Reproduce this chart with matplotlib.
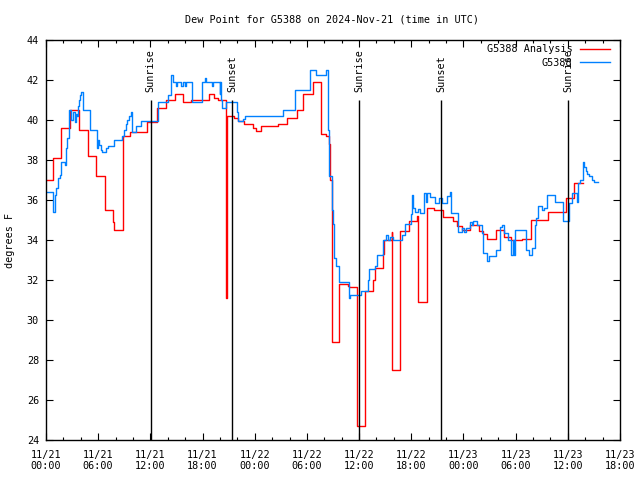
#!/usr/bin/python3

import matplotlib
matplotlib.use("Agg")
import matplotlib.pyplot as plt
from matplotlib.ticker import MultipleLocator
from datetime import datetime, timedelta

START = datetime(2024, 11, 21, 0, 0)

# hours since 11/21 00:00 UTC, and dew point in F
analysis_hours = [0.00, 0.80, 1.76, 2.76, 3.76, 4.83, 5.71, 6.78, 7.74, 7.85,
                  8.82, 9.66, 11.61, 12.73, 13.80, 14.83, 15.79, 16.64, 18.71, 19.32,
                  19.81, 20.64, 20.85, 21.62, 22.11, 22.77, 23.84, 24.11, 24.69, 26.71,
                  27.68, 28.83, 29.59, 30.73, 31.59, 32.19, 32.54, 32.71, 32.85, 33.72,
                  34.69, 34.87, 35.72, 36.71, 37.63, 37.83, 38.71, 38.81, 39.73, 39.82,
                  40.74, 41.77, 42.69, 42.81, 43.77, 44.61, 45.68, 46.76, 47.29, 47.80,
                  48.75, 49.82, 50.21, 50.67, 51.74, 52.70, 53.47, 54.70, 55.77, 57.76,
                  59.79, 60.71, 61.78]
analysis_vals = [37.0, 38.1, 39.6, 40.5, 39.5, 38.2, 37.2, 35.5, 34.9, 34.5,
                 39.2, 39.4, 39.9, 40.6, 41.0, 41.3, 40.9, 41.0, 41.3, 41.1,
                 41.0, 31.1, 40.2, 40.1, 39.95, 39.8, 39.6, 39.45, 39.7, 39.8,
                 40.1, 40.5, 41.3, 41.9, 39.3, 39.2, 38.8, 37.0, 28.9, 31.8,
                 31.7, 31.65, 24.7, 31.45, 32.0, 32.6, 33.3, 34.0, 34.4, 27.5,
                 34.45, 34.95, 35.2, 30.9, 35.6, 35.5, 35.15, 34.95, 34.7, 34.5,
                 34.75, 34.45, 34.3, 34.05, 34.5, 34.15, 34.0, 34.05, 35.0, 35.4,
                 36.1, 36.85, 36.85]

obs_hours = [0.00, 0.84, 1.00, 1.15, 1.38, 1.58, 1.76, 2.15, 2.30, 2.45,
             2.61, 2.68, 2.91, 3.14, 3.30, 3.45, 3.60, 3.68, 3.79, 3.91,
             4.06, 4.22, 5.06, 5.83, 5.90, 5.98, 6.13, 6.29, 6.44, 6.86,
             7.13, 7.82, 8.77, 8.97, 9.16, 9.35, 9.54, 9.74, 9.92, 10.38,
             10.89, 12.91, 14.06, 14.37, 14.55, 14.95, 15.12, 15.52, 15.70, 15.98,
             16.15, 16.75, 17.90, 18.28, 18.40, 19.09, 19.21, 19.95, 20.04, 20.12,
             20.20, 20.70, 21.93, 22.11, 22.69, 22.88, 27.22, 28.63, 30.36, 31.05,
             32.19, 32.46, 32.58, 32.89, 32.97, 33.08, 33.15, 33.31, 33.72, 34.87,
             34.95, 36.18, 37.06, 37.17, 37.83, 38.09, 38.78, 39.09, 39.32, 39.55,
             39.93, 40.90, 41.28, 41.93, 42.12, 42.23, 42.43, 42.77, 43.00, 43.46,
             43.64, 43.77, 44.15, 44.73, 45.22, 45.50, 46.14, 46.45, 46.57, 47.41,
             47.80, 48.10, 48.29, 48.75, 48.95, 49.13, 49.52, 50.10, 50.28, 50.74,
             50.97, 51.71, 52.20, 52.40, 52.70, 53.09, 53.47, 53.64, 53.81, 53.93,
             55.19, 55.57, 55.85, 56.23, 56.34, 56.61, 57.00, 57.26, 57.57, 58.53,
             59.48, 60.17, 60.44, 61.02, 61.14, 61.40, 61.71, 61.86, 62.05, 62.24,
             62.43, 62.81, 63.01, 63.50]
obs_vals = [36.4, 35.4, 36.25, 36.6, 37.1, 37.25, 37.9, 37.75, 38.6, 39.1,
            40.0, 40.5, 40.0, 40.4, 39.9, 40.3, 40.2, 40.7, 41.0, 41.25,
            41.4, 40.5, 39.5, 39.0, 38.6, 39.0, 38.75, 38.5, 38.4, 38.6,
            38.7, 39.0, 39.2, 39.5, 39.8, 40.0, 40.2, 40.4, 39.4, 39.7,
            39.95, 40.9, 41.25, 42.25, 41.9, 41.7, 41.9, 41.7, 41.9, 41.7,
            41.9, 40.9, 41.9, 42.1, 41.9, 41.7, 41.9, 41.3, 41.9, 41.0,
            40.6, 40.9, 40.4, 39.95, 40.05, 40.2, 40.5, 41.5, 42.5, 42.25,
            42.5, 39.5, 37.2, 35.5, 34.8, 33.8, 33.1, 32.7, 31.9, 31.1,
            31.25, 31.45, 32.0, 32.55, 32.7, 33.25, 34.0, 34.25, 34.0, 34.15,
            34.0, 34.25, 34.8, 35.3, 36.25, 35.6, 35.4, 35.55, 35.35, 36.35,
            35.9, 36.35, 36.15, 35.85, 36.1, 35.85, 36.2, 36.4, 35.35, 34.4,
            34.6, 34.4, 34.6, 34.9, 34.75, 34.95, 34.75, 34.35, 33.35, 32.95,
            33.2, 33.5, 34.65, 34.75, 34.35, 34.0, 33.25, 34.0, 33.25, 34.5,
            33.5, 33.25, 33.6, 34.75, 35.1, 35.7, 35.5, 35.6, 36.25, 35.9,
            34.95, 35.85, 36.35, 35.9, 36.85, 37.0, 37.9, 37.65, 37.45, 37.3,
            37.2, 37.0, 36.9, 36.9]

sun_hours = [12.04, 21.42, 36.02, 45.45, 60.06]
sun_labels = ["Sunrise", "Sunset", "Sunrise", "Sunset", "Sunrise"]

FONT = "DejaVu Sans Mono"
FS = 7.3
plt.rcParams['font.family'] = FONT
plt.rcParams['font.size'] = FS

fig = plt.figure(figsize=(6.4, 4.8), dpi=100)
ax = fig.add_axes([46 / 640, 40 / 480, 574 / 640, 400 / 480])

ax.step(analysis_hours, analysis_vals, where='post', color='#ff0000',
        linewidth=1.0, label='G5388 Analysis')
ax.step(obs_hours, obs_vals, where='post', color='#0080ff',
        linewidth=1.0, label='G5388')

ax.vlines(sun_hours, 24, 41, colors='black', linewidth=1.0)
for h, lab in zip(sun_hours, sun_labels):
    ax.text(h, 41.4, lab, rotation=90, ha='center', va='bottom')

ax.set_xlim(0, 66)
ax.set_ylim(24, 44)
tick_hours = list(range(0, 67, 6))
ax.set_xticks(tick_hours)
ax.set_xticklabels([(START + timedelta(hours=h)).strftime("%m/%d\n%H:%M")
                    for h in tick_hours])
ax.xaxis.set_minor_locator(MultipleLocator(2))
ax.set_yticks(range(24, 45, 2))

ax.tick_params(which='both', direction='in', top=True, right=True, width=0.8)
ax.tick_params(which='major', length=5)
ax.tick_params(which='minor', length=2.5)
ax.tick_params(axis='x', pad=7)
ax.tick_params(axis='y', pad=5)
for s in ax.spines.values():
    s.set_linewidth(1.0)

ax.legend(loc='upper right', bbox_to_anchor=(1 - 6 / 574, 1),
          markerfirst=False, frameon=False,
          handlelength=3.0, handletextpad=0.7, borderaxespad=0.3,
          borderpad=0.1, labelspacing=0.35, fontsize=FS)

fig.text(332 / 640, 1 - 19 / 480, "Dew Point for G5388 on 2024-Nov-21 (time in UTC)",
         ha='center', va='center')
fig.text(10 / 640, 0.5, "degrees F", rotation=90, ha='center', va='center')

plt.savefig("out.png", dpi=100)
